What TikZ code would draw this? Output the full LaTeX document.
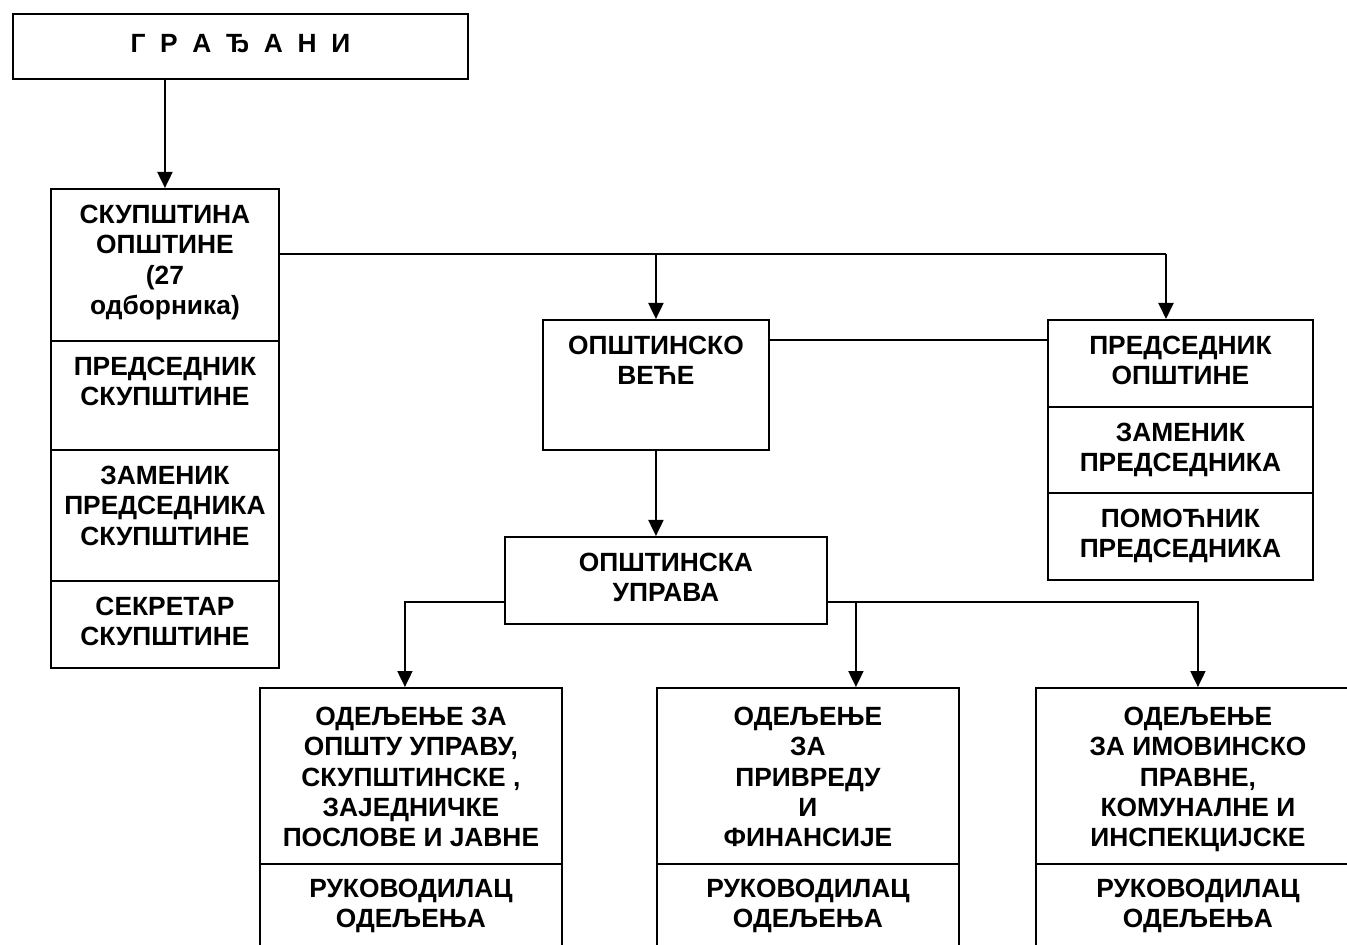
\documentclass[tikz,border=0pt]{standalone}
\usepackage{fontspec}
\setmainfont{Liberation Sans}
\usetikzlibrary{arrows.meta}
\begin{document}
\begin{tikzpicture}[x=0.02cm,y=-0.02cm,
    box/.style={draw,line width=1.1pt,rectangle,inner sep=0pt,anchor=north west},
    txt/.style={align=center,inner sep=0pt,anchor=north,font=\fontsize{15}{17.3}\selectfont\bfseries},
    arr/.style={line width=1.1pt,-{Triangle[length=0.32cm,width=0.3cm]}},
    con/.style={line width=1.1pt}]

  \useasboundingbox (0,0) rectangle (1347,945);
  \clip (0,0) rectangle (1347,945);

  % gradjani
  \node[box,minimum width=9.1cm,minimum height=1.3cm] (gr) at (12,13) {};
  \node[txt] (grt) at ([yshift=-0.43cm]gr.north) {Г \ Р \ А \ Ђ \ А \ Н \ И};

  % skupstina
  \node[box,minimum width=4.56cm,minimum height=3.04cm] (sk1) at (50,188) {};
  \node[box,minimum width=4.56cm,minimum height=2.18cm] (sk2) at (50,340) {};
  \node[box,minimum width=4.56cm,minimum height=2.62cm] (sk3) at (50,449) {};
  \node[box,minimum width=4.56cm,minimum height=1.74cm] (sk4) at (50,580) {};
  \node[txt] (sk1t) at ([yshift=-0.33cm]sk1.north) {СКУПШТИНА\\ОПШТИНЕ\\(27\\одборника)};
  \node[txt] (sk2t) at ([yshift=-0.33cm]sk2.north) {ПРЕДСЕДНИК\\СКУПШТИНЕ};
  \node[txt] (sk3t) at ([yshift=-0.33cm]sk3.north) {ЗАМЕНИК\\ПРЕДСЕДНИКА\\СКУПШТИНЕ};
  \node[txt] (sk4t) at ([yshift=-0.33cm]sk4.north) {СЕКРЕТАР\\СКУПШТИНЕ};

  % vece
  \node[box,minimum width=4.52cm,minimum height=2.6cm] (vc) at (542,319) {};
  \node[txt] (vct) at ([yshift=-0.33cm]vc.north) {ОПШТИНСКО\\ВЕЋЕ};

  % predsednik
  \node[box,minimum width=5.3cm,minimum height=1.74cm] (pr1) at (1047,319) {};
  \node[box,minimum width=5.3cm,minimum height=1.72cm] (pr2) at (1047,406) {};
  \node[box,minimum width=5.3cm,minimum height=1.74cm] (pr3) at (1047,492) {};
  \node[txt] (pr1t) at ([yshift=-0.33cm]pr1.north) {ПРЕДСЕДНИК\\ОПШТИНЕ};
  \node[txt] (pr2t) at ([yshift=-0.33cm]pr2.north) {ЗАМЕНИК\\ПРЕДСЕДНИКА};
  \node[txt] (pr3t) at ([yshift=-0.33cm]pr3.north) {ПОМОЋНИК\\ПРЕДСЕДНИКА};

  % uprava
  \node[box,minimum width=6.44cm,minimum height=1.74cm] (up) at (504,536) {};
  \node[txt] (upt) at ([yshift=-0.33cm]up.north) {ОПШТИНСКА\\УПРАВА};

  % odeljenja
  \node[box,minimum width=6.04cm,minimum height=3.52cm] (od1a) at (259,687) {};
  \node[box,minimum width=6.04cm,minimum height=2.4cm] (od1b) at (259,863) {};
  \node[box,minimum width=6.04cm,minimum height=3.52cm] (od2a) at (656,687) {};
  \node[box,minimum width=6.04cm,minimum height=2.4cm] (od2b) at (656,863) {};
  \node[box,minimum width=6.48cm,minimum height=3.52cm] (od3a) at (1035,687) {};
  \node[box,minimum width=6.48cm,minimum height=2.4cm] (od3b) at (1035,863) {};
  \node[txt] (od1t) at ([yshift=-0.39cm]od1a.north) {ОДЕЉЕЊЕ ЗА\\ОПШТУ УПРАВУ,\\СКУПШТИНСКЕ ,\\ЗАЈЕДНИЧКЕ\\ПОСЛОВЕ И ЈАВНЕ};
  \node[txt] (od2t) at ([yshift=-0.39cm]od2a.north) {ОДЕЉЕЊЕ\\ЗА\\ПРИВРЕДУ\\И\\ФИНАНСИЈЕ};
  \node[txt] (od3t) at ([yshift=-0.39cm]od3a.north) {ОДЕЉЕЊЕ\\ЗА ИМОВИНСКО\\ПРАВНЕ,\\КОМУНАЛНЕ И\\ИНСПЕКЦИЈСКЕ};
  \foreach \n in {od1b,od2b,od3b}{
    \node[txt] (\n t) at ([yshift=-0.31cm]\n.north) {РУКОВОДИЛАЦ\\ОДЕЉЕЊА};
  }

  % connectors
  \coordinate (bus) at (1166,254);
  \coordinate (vl) at (0,340);
  \coordinate (ub) at (0,602);
  \draw[arr] (gr.south -| sk1.north) -- (sk1.north);
  \draw[con] (sk1.east |- bus) -- (bus);
  \draw[arr] (vc.north |- bus) -- (vc.north);
  \draw[arr] (bus) -- (bus |- pr1.north);
  \draw[con] (vc.east |- vl) -- (pr1.west |- vl);
  \draw[arr] (vc.south) -- (vc.south |- up.north);
  \draw[arr] (up.west |- ub) -| ([xshift=-0.12cm]od1a.north);
  \draw[arr] (up.east |- ub) -| (od3a.north);
  \draw[arr] ([xshift=0.96cm]od2a.north |- ub) -- ([xshift=0.96cm]od2a.north);

\end{tikzpicture}
\end{document}
